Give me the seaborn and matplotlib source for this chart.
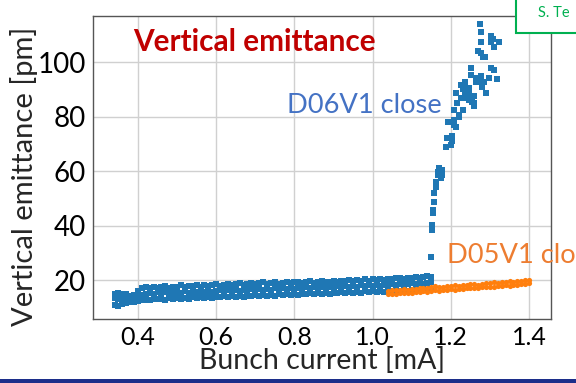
import numpy as np
import pandas as pd
import matplotlib
matplotlib.use("Agg")
import matplotlib.pyplot as plt
from matplotlib.patches import Rectangle
import seaborn as sns

# ---------------- data ----------------
# D06V1 close, low-current band: one current value, three measured emittances
blue_band_current = [0.34, 0.35, 0.36, 0.37, 0.38, 0.39, 0.40, 0.41, 0.42, 0.43,
                     0.44, 0.45, 0.46, 0.47, 0.48, 0.49, 0.50, 0.51, 0.52, 0.53,
                     0.54, 0.55, 0.56, 0.57, 0.58, 0.59, 0.60, 0.61, 0.62, 0.63,
                     0.64, 0.65, 0.66, 0.67, 0.68, 0.69, 0.70, 0.71, 0.72, 0.73,
                     0.74, 0.75, 0.76, 0.77, 0.78, 0.79, 0.80, 0.81, 0.82, 0.83,
                     0.84, 0.85, 0.86, 0.87, 0.88, 0.89, 0.90, 0.91, 0.92, 0.93,
                     0.94, 0.95, 0.96, 0.97, 0.98, 0.99, 1.00, 1.01, 1.02, 1.03,
                     1.04, 1.05, 1.06, 1.07, 1.08, 1.09, 1.10, 1.11, 1.12, 1.13,
                     1.14, 1.15]
blue_band_low = [11.0, 10.6, 11.2, 11.5, 11.8, 12.0, 12.3, 12.5, 12.8, 12.6,
                 13.1, 12.9, 13.2, 12.8, 13.3, 13.0, 13.4, 13.1, 13.5, 13.2,
                 13.6, 13.3, 13.7, 13.4, 13.8, 13.5, 13.9, 13.6, 14.0, 13.7,
                 14.1, 13.8, 14.2, 13.9, 14.3, 14.0, 14.4, 14.1, 14.5, 14.2,
                 14.6, 14.3, 14.7, 14.4, 14.8, 14.5, 14.9, 14.6, 15.0, 14.7,
                 15.1, 14.8, 15.2, 14.9, 15.3, 15.0, 15.4, 15.1, 15.5, 15.2,
                 15.6, 15.3, 15.7, 15.4, 15.8, 15.5, 15.9, 15.6, 16.0, 15.7,
                 16.1, 15.8, 16.2, 15.9, 16.3, 16.0, 16.4, 16.6, 16.3, 16.7,
                 16.4, 16.8]
blue_band_mid = [13.5, 13.0, 12.6, 13.4, 13.1, 13.6, 14.2, 14.6, 15.0, 15.3,
                 14.8, 15.5, 15.1, 15.6, 14.9, 15.4, 15.7, 15.2, 15.8, 15.4,
                 16.0, 15.5, 15.9, 15.6, 16.1, 15.7, 16.0, 16.2, 15.8, 16.3,
                 16.0, 16.4, 16.1, 16.5, 16.2, 16.6, 16.3, 16.7, 16.4, 16.8,
                 16.5, 16.9, 16.6, 17.0, 16.7, 17.1, 16.8, 17.2, 16.9, 17.3,
                 17.0, 17.4, 17.1, 17.5, 17.2, 17.6, 17.3, 17.7, 17.4, 17.8,
                 17.5, 17.9, 17.6, 18.0, 17.7, 18.1, 17.8, 18.2, 17.9, 18.3,
                 18.0, 18.4, 18.1, 18.5, 18.2, 18.6, 18.8, 18.5, 18.9, 18.6,
                 19.0, 19.2]
blue_band_high = [15.0, 15.2, 14.8, 14.9, 14.2, 14.6, 15.8, 17.0, 17.6, 17.2,
                  17.5, 16.9, 17.4, 17.8, 17.2, 17.6, 17.3, 18.0, 17.5, 17.7,
                  17.9, 18.3, 17.6, 18.1, 17.8, 18.2, 18.4, 17.9, 18.3, 18.6,
                  18.1, 18.5, 18.8, 18.2, 18.6, 18.9, 18.4, 18.8, 19.1, 18.6,
                  18.9, 19.2, 18.7, 19.0, 19.3, 18.8, 19.1, 19.4, 18.9, 19.2,
                  19.5, 19.0, 19.3, 19.6, 19.1, 19.4, 19.7, 19.2, 19.5, 19.8,
                  20.0, 19.6, 20.1, 19.7, 20.2, 19.8, 20.3, 20.0, 20.4, 20.1,
                  20.5, 20.2, 20.6, 20.8, 20.5, 20.9, 20.6, 21.0, 20.7, 21.1,
                  21.3, 21.0]
# D06V1 close, blow-up above ~1.15 mA
blue_jump_current = [1.150, 1.152, 1.152, 1.155, 1.155, 1.157, 1.157, 1.161, 1.161, 1.166,
                     1.166, 1.178, 1.178, 1.175, 1.170, 1.162, 1.188, 1.190, 1.204, 1.204,
                     1.193, 1.209, 1.209, 1.222, 1.214, 1.237, 1.227, 1.237, 1.237, 1.247,
                     1.247, 1.260, 1.255, 1.260, 1.252, 1.252, 1.265, 1.265, 1.277, 1.277,
                     1.280, 1.290, 1.285, 1.303, 1.311, 1.318, 1.298, 1.270, 1.277, 1.282,
                     1.288, 1.277, 1.277, 1.275, 1.303, 1.303, 1.323, 1.311, 1.308, 1.201,
                     1.214, 1.222, 1.230, 1.240, 1.247, 1.252, 1.260, 1.242, 1.230, 1.227,
                     1.216, 1.209]
blue_jump_emit = [28.4, 38.3, 40.2, 44.6, 45.7, 48.6, 51.9, 54.9, 56.0, 58.5,
                  59.6, 60.4, 58.5, 57.4, 61.0, 54.0, 68.8, 72.0, 71.0, 73.0,
                  78.0, 76.8, 78.9, 80.7, 88.8, 88.8, 91.7, 90.6, 92.8, 88.8,
                  86.2, 87.4, 85.5, 83.7, 97.9, 95.4, 94.3, 92.5, 94.7, 92.8,
                  91.0, 88.8, 92.8, 97.9, 97.1, 93.6, 94.3, 103.9, 103.4, 102.0,
                  102.0, 107.5, 111.2, 113.8, 109.4, 107.5, 107.5, 105.7, 108.3, 69.5,
                  76.0, 79.8, 82.4, 88.8, 90.6, 86.9, 85.0, 86.9, 90.0, 86.9,
                  85.0, 82.4]
# D05V1 close
orange_current = [1.04, 1.05, 1.06, 1.07, 1.08, 1.09, 1.10, 1.11, 1.12, 1.13,
                  1.14, 1.15, 1.16, 1.17, 1.18, 1.19, 1.20, 1.21, 1.22, 1.23,
                  1.24, 1.25, 1.26, 1.27, 1.28, 1.29, 1.30, 1.31, 1.32, 1.33,
                  1.34, 1.35, 1.36, 1.37, 1.38, 1.39, 1.40]
orange_low = [14.8, 15.0, 14.9, 15.2, 15.1, 15.4, 15.3, 15.6, 15.5, 15.8,
              15.7, 16.0, 16.2, 16.1, 16.4, 16.3, 16.6, 16.5, 16.8, 16.7,
              17.0, 16.9, 17.2, 17.1, 17.4, 17.3, 17.6, 17.5, 17.8, 17.7,
              18.0, 17.9, 18.2, 18.1, 18.4, 18.5, 18.8]
orange_high = [16.0, 16.2, 16.4, 16.3, 16.6, 16.5, 16.8, 16.7, 17.0, 16.9,
               17.2, 17.3, 17.8, 17.4, 17.6, 17.9, 17.7, 18.0, 17.9, 18.2,
               18.1, 18.4, 18.6, 18.3, 18.7, 19.0, 18.8, 19.3, 19.0, 19.4,
               19.2, 19.6, 19.4, 19.8, 19.6, 20.0, 19.9]

x_ticks = [0.4, 0.6, 0.8, 1.0, 1.2, 1.4]
y_ticks = [20, 40, 60, 80, 100]

# ---------------- tables ----------------
blue_df = pd.DataFrame({
    "current": list(blue_band_current) * 3 + blue_jump_current,
    "emittance": blue_band_low + blue_band_mid + blue_band_high + blue_jump_emit,
})
orange_df = pd.DataFrame({
    "current": orange_current * 2,
    "emittance": orange_low + orange_high,
})

# ---------------- figure ----------------
sns.set_theme(style="whitegrid")
plt.rcParams["font.family"] = ["Lato", "DejaVu Sans"]

W, H = 576, 383
fig = plt.figure(figsize=(W / 100, H / 100), dpi=100)
fig.patch.set_facecolor("white")
ax_l, ax_r, ax_t, ax_b = 93, 551, 16, 319
ax = fig.add_axes([ax_l / W, 1 - ax_b / H, (ax_r - ax_l) / W, (ax_b - ax_t) / H])
ax.set_facecolor("white")

sns.scatterplot(data=blue_df, x="current", y="emittance", ax=ax, marker="s",
                s=24, color="#1f77b4", linewidth=0, zorder=3)
sns.scatterplot(data=orange_df, x="current", y="emittance", ax=ax, marker="o",
                s=14, color="#ff7f0e", linewidth=0, zorder=4)

ax.set_xlim(0.285, 1.456)
ax.set_ylim(5.7, 116.9)
ax.set_xticks(x_ticks)
ax.set_xticklabels([f"{v:.1f}" for v in x_ticks])
ax.set_yticks(y_ticks)
ax.grid(True, color="#d0d0d0", linewidth=1.0)
for sp in ax.spines.values():
    sp.set_color("#555555")
    sp.set_linewidth(1.0)
ax.tick_params(axis="both", which="both", labelcolor="black",
               color="#555555", length=4, width=0.8, direction="out")
ax.tick_params(axis="x", labelsize=18, pad=1)
ax.tick_params(axis="y", labelsize=20, pad=1)

ax.set_xlabel("Bunch current [mA]", fontsize=20.5)
ax.xaxis.label.set_va("baseline")
ax.xaxis.set_label_coords(0.5, (ax_b - 369) / (ax_b - ax_t))
ax.set_ylabel("Vertical emittance [pm]", fontsize=21)
ax.yaxis.label.set_va("bottom")
ax.yaxis.set_label_coords((38 - ax_l) / (ax_r - ax_l), (ax_b - 176) / (ax_b - ax_t))

def fx(px):
    return px / W

def fy(py):
    return 1 - py / H

fig.text(fx(133), fy(42), "Vertical emittance", color="#C00000",
         fontsize=21.4, fontweight="bold", ha="left", va="center")
fig.text(fx(287), fy(113), "D06V1 close", color="#4472C4",
         fontsize=19.6, ha="left", va="baseline")
fig.text(fx(447), fy(263), "D05V1 close", color="#ED7D31",
         fontsize=19.6, ha="left", va="baseline")

# green author box (cropped at top-right)
fig.patches.append(Rectangle((fx(516), fy(33)), fx(80), 0.2,
                             transform=fig.transFigure, facecolor="white",
                             edgecolor="#00B050", linewidth=1.5, zorder=10))
fig.text(fx(538), fy(17), "S. Te", color="#00B050", fontsize=10.5,
         ha="left", va="baseline", zorder=11)

# dark blue slide rule at the bottom
fig.patches.append(Rectangle((0, 0), 1, 4.5 / H, transform=fig.transFigure,
                             facecolor="#1c2e8a", edgecolor="none", zorder=10))

fig.savefig("out.png", dpi=100)
